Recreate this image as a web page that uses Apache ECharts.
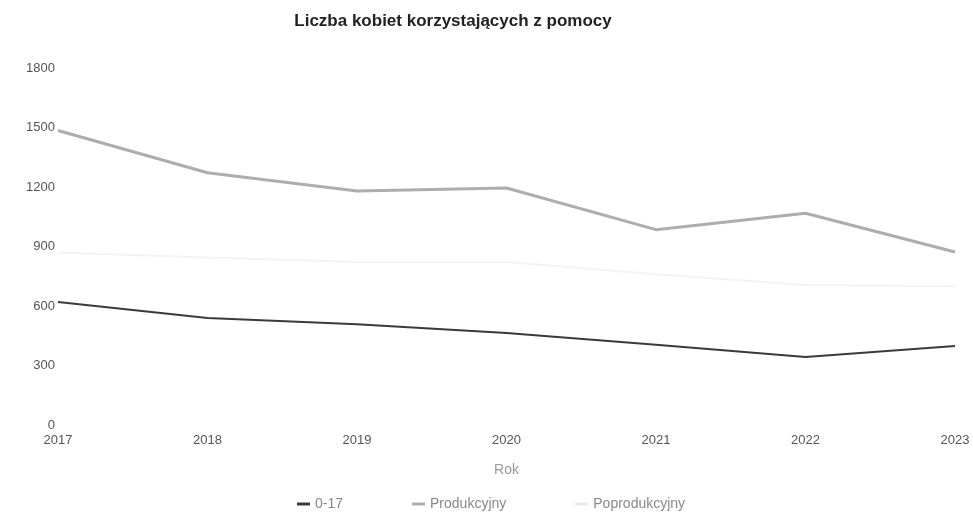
<!DOCTYPE html>
<html>
<head>
<meta charset="utf-8">
<script src="https://cdn.jsdelivr.net/npm/echarts@6/dist/echarts.min.js"></script>
<style>
  html, body { margin: 0; padding: 0; background: #fff; }
  #chart { width: 973px; height: 519px; }
</style>
</head>
<body>
<div id="chart"></div>
<script>
var years = ['2017', '2018', '2019', '2020', '2021', '2022', '2023']
var dzieci = [620, 540, 508, 464, 405, 343, 398]
var produkcyjny = [1485, 1272, 1180, 1195, 985, 1068, 872]
var poprodukcyjny = [870, 845, 822, 822, 760, 706, 700]
var yTicks = [0, 300, 600, 900, 1200, 1500, 1800]

var myChart = echarts.init(document.getElementById('chart'))
var font = "'Liberation Sans', Arial, sans-serif"
var option = {
    animation: false,
    title: {
        text: 'Liczba kobiet korzystających z pomocy',
        left: 448,
        textAlign: 'center',
        top: 8,
        textStyle: { fontFamily: font, fontSize: 17, fontWeight: 'bold', color: '#222' }
    },
    legend: {
        bottom: 3,
        left: 292,
        icon: 'rect',
        itemWidth: 13,
        itemHeight: 3,
        itemGap: 69,
        textStyle: { fontFamily: font, fontSize: 14, color: '#888' },
        data: ['0-17', 'Produkcyjny', 'Poprodukcyjny']
    },
    grid: {
        left: 58,
        right: 18,
        top: 68,
        bottom: 94
    },
    xAxis: {
        type: 'category',
        data: years,
        boundaryGap: false,
        name: 'Rok',
        nameLocation: 'middle',
        nameGap: 38,
        nameTextStyle: { fontFamily: font, fontSize: 14, color: '#999' },
        axisLine: { show: false },
        axisTick: { show: false },
        axisLabel: { fontFamily: font, fontSize: 13, color: '#555', margin: 9 }
    },
    yAxis: {
        type: 'value',
        min: yTicks[0],
        max: yTicks[yTicks.length - 1],
        interval: 300,
        splitLine: { show: false },
        axisLabel: {
            fontFamily: font, fontSize: 13, color: '#555', margin: 3,
            formatter: function (v) { return String(v) }
        }
    },
    series: [
        {
            name: '0-17',
            type: 'line',
            data: dzieci,
            showSymbol: false,
            itemStyle: { color: '#3a3a3a' },
            lineStyle: { color: '#3a3a3a', width: 2 }
        },
        {
            name: 'Produkcyjny',
            type: 'line',
            data: produkcyjny,
            showSymbol: false,
            itemStyle: { color: '#adadad' },
            lineStyle: { color: '#adadad', width: 3 }
        },
        {
            name: 'Poprodukcyjny',
            type: 'line',
            data: poprodukcyjny,
            showSymbol: false,
            itemStyle: { color: '#e8e8e8' },
            lineStyle: { color: '#f3f3f3', width: 2 }
        }
    ]
}
myChart.setOption(option)
</script>
</body>
</html>
